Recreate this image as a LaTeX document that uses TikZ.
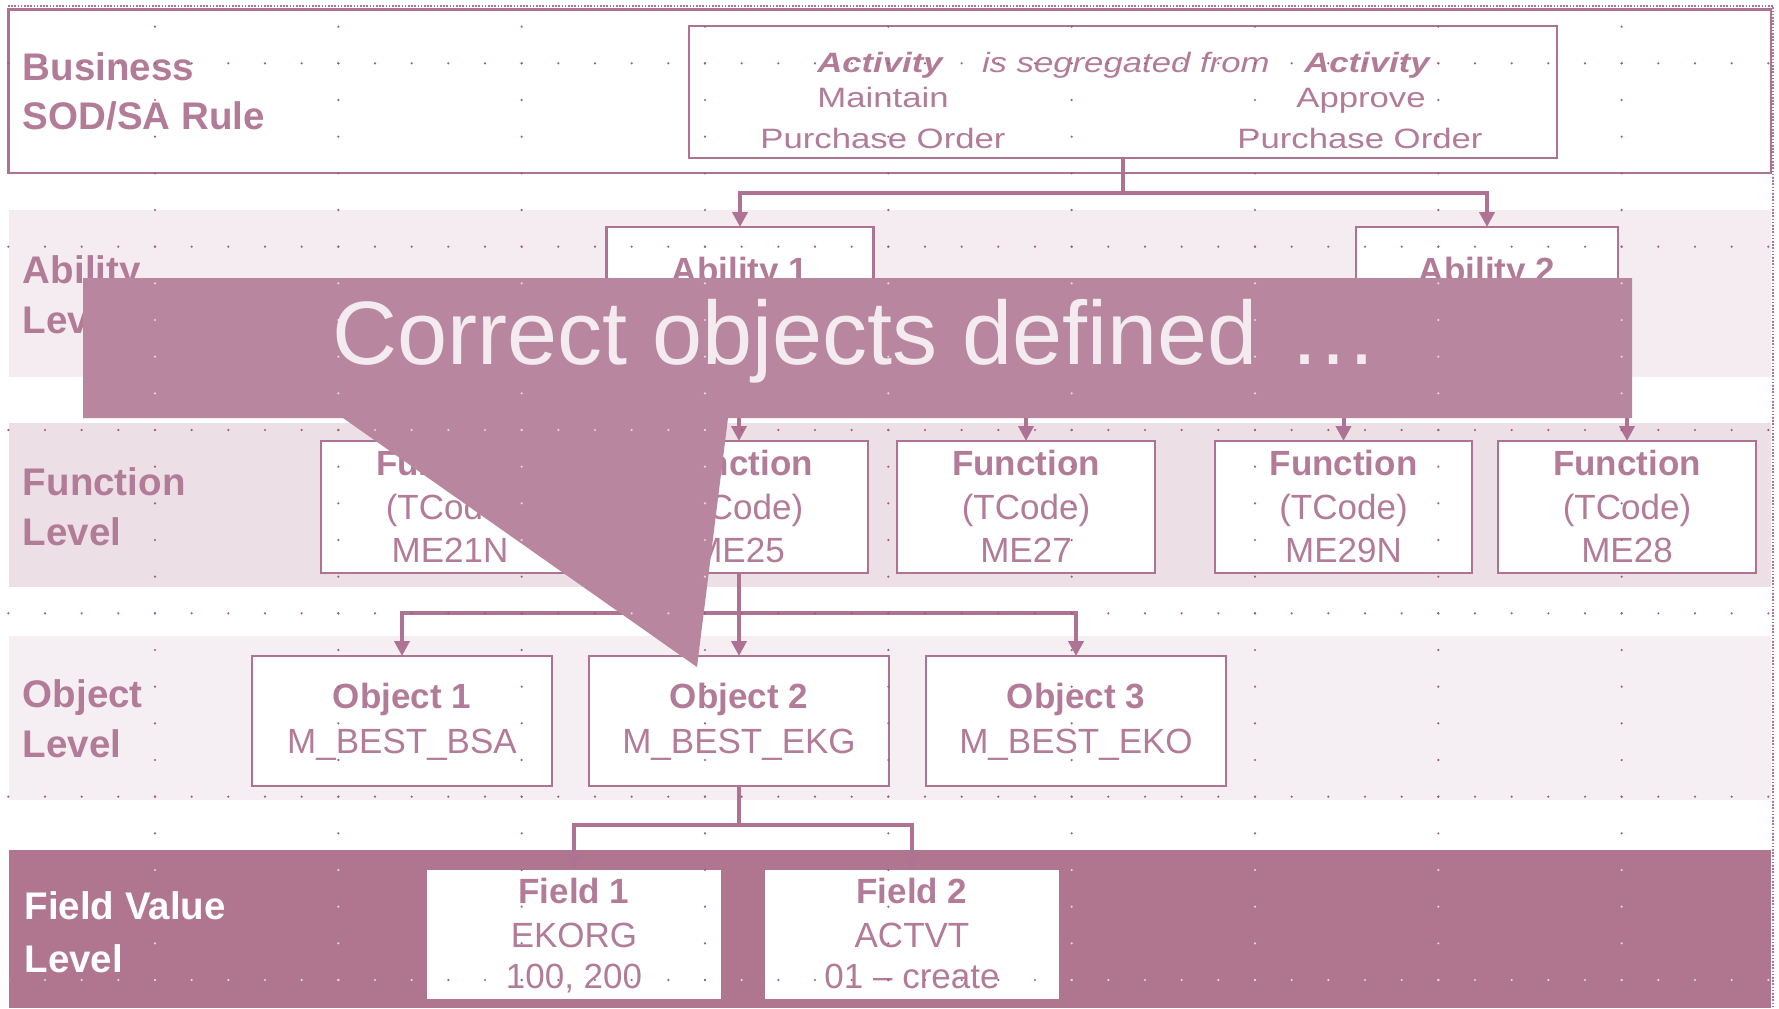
\documentclass[tikz,border=0pt]{standalone}
\usepackage{fontspec}
\setmainfont{Liberation Sans}
\usetikzlibrary{arrows.meta}

\definecolor{linec}{RGB}{174,114,146}
\definecolor{textc}{RGB}{178,124,152}
\definecolor{abilband}{RGB}{244,236,240}
\definecolor{funcband}{RGB}{236,223,230}
\definecolor{objband}{RGB}{245,238,242}
\definecolor{fieldband}{RGB}{176,118,144}
\definecolor{bannerc}{RGB}{185,134,159}
\definecolor{paletext}{RGB}{244,235,240}
\definecolor{dotdark}{RGB}{158,92,126}
\definecolor{dotlight}{RGB}{232,212,222}

% horizontal stretch used for the rule text
\newcommand\wide[1]{\scalebox{1.24}[1]{#1}}

% layout guide dots
\newcommand\gridpts[1]{%
  \foreach \gy in {63.33,246.67,430,613.33,796.67,980}{%
    \foreach \gi in {0,...,48}{\fill[#1] (8.33+36.667*\gi,\gy) circle[radius=0.6pt];}}%
  \foreach \gx in {155,338.33,521.67,705,888.33,1071.67,1255,1438.33,1621.67}{%
    \foreach \gj in {0,...,26}{\fill[#1] (\gx,26.67+36.667*\gj) circle[radius=0.6pt];}}}

\tikzset{
  box/.style={draw=linec, line width=1.2pt, fill=white, inner sep=0pt, outer sep=0pt},
  sz/.style 2 args={minimum width=#1*0.5pt, minimum height=#2*0.5pt},
  conn/.style={draw=linec, line width=2pt},
  arr/.style={conn, -{Triangle[length=7.5pt,width=7.5pt]}},
  txt/.style={anchor=base, inner sep=0pt, outer sep=0pt, text=textc, font=\fontsize{17.5pt}{20pt}\selectfont},
  hdr/.style={txt, font=\fontsize{17.5pt}{20pt}\selectfont\bfseries},
  rule/.style={txt, font=\fontsize{14pt}{16pt}\selectfont},
  side/.style={anchor=base west, inner sep=0pt, outer sep=0pt, text=textc, font=\fontsize{19.25pt}{22pt}\selectfont\bfseries},
}

\begin{document}
\begin{tikzpicture}[x=0.5pt,y=-0.5pt]
\useasboundingbox[fill=white] (0,0) rectangle (1779,1008);

% level bands
\draw[linec, line width=1.2pt, fill=white] (8.6,9.3) rectangle (1770.7,172.7);
\fill[abilband] (8.6,210) rectangle (1770.7,377);
\fill[funcband] (8.6,423) rectangle (1770.7,587);
\fill[objband] (8.6,636) rectangle (1770.7,800);
\fill[fieldband] (8.6,850) rectangle (1770.7,1008);
\begin{scope}
  \clip (8.6,850) rectangle (1770.7,1008);
  \gridpts{dotlight}
\end{scope}

% boxes
\node[box, sz={868}{132}] (act) at (1123,92) {};
\node[box, sz={267}{128}] (ab1) at (740,291) {};
\node[box, sz={262}{128}] (ab2) at (1487,291) {};
\node[box, sz={258}{132}] (f1) at (450,507) {};
\node[box, sz={258}{132}] (f2) at (739,507) {};
\node[box, sz={258}{132}] (f3) at (1026,507) {};
\node[box, sz={257}{132}] (f4) at (1343.5,507) {};
\node[box, sz={258}{132}] (f5) at (1627,507) {};
\node[box, sz={300}{130}] (o1) at (402,721) {};
\node[box, sz={300}{130}] (o2) at (739,721) {};
\node[box, sz={300}{130}] (o3) at (1076,721) {};
\node[box, draw=fieldband, sz={297}{131}] (fd1) at (574,934.5) {};
\node[box, draw=fieldband, sz={297}{131}] (fd2) at (912,934.5) {};

% connectors
\coordinate (j1) at (0,193);
\coordinate (j2) at (0,400);
\coordinate (j3) at (0,613);
\coordinate (j4) at (0,825);
\draw[arr] (act.south) -- (act.south |- j1) -| (ab1.north);
\draw[arr] (act.south) -- (act.south |- j1) -| (ab2.north);
\draw[arr] (ab1.south) -- (ab1.south |- j2) -| (f1.north);
\draw[arr] (ab1.south) -- (ab1.south |- j2) -| (f2.north);
\draw[arr] (ab1.south) -- (ab1.south |- j2) -| (f3.north);
\draw[arr] (ab2.south) -- (ab2.south |- j2) -| (f4.north);
\draw[arr] (ab2.south) -- (ab2.south |- j2) -| (f5.north);
\draw[arr] (f2.south) -- (f2.south |- j3) -| (o1.north);
\draw[arr] (f2.south) -- (o2.north);
\draw[arr] (f2.south) -- (f2.south |- j3) -| (o3.north);
\draw[arr] (o2.south) -- (o2.south |- j4) -| (fd1.north);
\draw[arr] (o2.south) -- (o2.south |- j4) -| (fd2.north);

% level names
\node[side] (l1a) at (23,80) {Business};
\node[side] (l1b) at (23,129.5) {SOD/SA Rule};
\node[side] (l2a) at (23,283) {Ability};
\node[side] (l2b) at (23,333) {Level};
\node[side] (l3a) at (23,495) {Function};
\node[side] (l3b) at (23,545) {Level};
\node[side] (l4a) at (23,707) {Object};
\node[side] (l4b) at (23,757) {Level};
\node[side, text=white] (l5a) at (24.5,919) {Field Value};
\node[side, text=white] (l5b) at (24.5,972) {Level};

% rule text
\node[rule, font=\fontsize{14pt}{16pt}\selectfont\bfseries\itshape] (r1) at (880,72) {\wide{Activity}};
\node[rule, anchor=base west, font=\fontsize{14pt}{16pt}\selectfont\itshape] (r2) at (982,72) {\wide{is segregated from}};
\node[rule, font=\fontsize{14pt}{16pt}\selectfont\bfseries\itshape] (r3) at (1367,72) {\wide{Activity}};
\node[rule] (r4) at (883,107) {\wide{Maintain}};
\node[rule] (r5) at (883,148) {\wide{Purchase Order}};
\node[rule] (r6) at (1361,107) {\wide{Approve}};
\node[rule] (r7) at (1360,148) {\wide{Purchase Order}};

% ability text
\node[hdr] (a1t) at (740,282) {Ability 1};
\node[hdr] (a2t) at (1487,282) {Ability 2};

% function text
\foreach \n/\cx/\code in {1/450/ME21N, 2/739/ME25, 3/1026/ME27, 4/1343.5/ME29N, 5/1627/ME28}{
  \node[hdr] (fh\n) at (\cx,475) {Function};
  \node[txt] (fc\n) at (\cx,519) {(TCode)};
  \node[txt] (fv\n) at (\cx,562) {\code};
}

% object text
\node[hdr] (oh1) at (402,708) {Object 1};
\node[txt] (ov1) at (402,753) {M\_BEST\_BSA};
\node[hdr] (oh2) at (739,708) {Object 2};
\node[txt] (ov2) at (739,753) {M\_BEST\_EKG};
\node[hdr] (oh3) at (1076,708) {Object 3};
\node[txt] (ov3) at (1076,753) {M\_BEST\_EKO};

% field text
\node[hdr] (dh1) at (574,903) {Field 1};
\node[txt] (dn1) at (574,947) {EKORG};
\node[txt] (dv1) at (574,988) {100, 200};
\node[hdr] (dh2) at (912,903) {Field 2};
\node[txt] (dn2) at (912,947) {ACTVT};
\node[txt] (dv2) at (912,988) {01 – create};

% guide dots on light areas
\begin{scope}
  \clip (0,0) rectangle (1779,850)
        (426,869) rectangle (722.5,1000)
        (763,869) rectangle (1061,1000);
  \gridpts{dotdark}
\end{scope}

% callout banner
\fill[bannerc] (83,278) -- (1632,278) -- (1632,418) -- (728,418)
  -- (697,667) -- (343,418) -- (83,418) -- cycle;
\begin{scope}
  \clip (83,278) -- (1632,278) -- (1632,418) -- (728,418)
    -- (697,667) -- (343,418) -- (83,418) -- cycle;
  \gridpts{dotlight}
\end{scope}
\node[anchor=base west, inner sep=0pt, text=paletext, font=\fontsize{45pt}{50pt}\selectfont] (bt) at (332,364) {Correct objects defined\ \hspace{3pt}…};

% frame
\draw[linec, line width=1pt, dash pattern=on 0.8pt off 0.8pt] (8,6) -- (1773,6) -- (1773,1008);
\end{tikzpicture}
\end{document}
